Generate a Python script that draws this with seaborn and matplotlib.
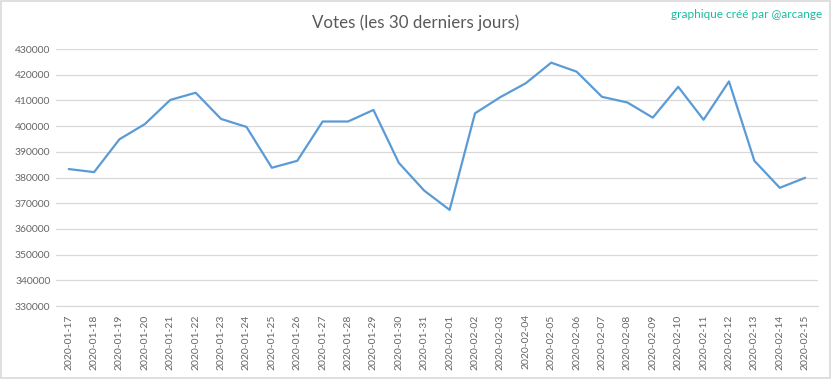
import matplotlib
matplotlib.use("Agg")
import matplotlib.pyplot as plt
import seaborn as sns
import pandas as pd
from matplotlib.patches import Rectangle

dates = ["2020-01-17", "2020-01-18", "2020-01-19", "2020-01-20", "2020-01-21",
         "2020-01-22", "2020-01-23", "2020-01-24", "2020-01-25", "2020-01-26",
         "2020-01-27", "2020-01-28", "2020-01-29", "2020-01-30", "2020-01-31",
         "2020-02-01", "2020-02-02", "2020-02-03", "2020-02-04", "2020-02-05",
         "2020-02-06", "2020-02-07", "2020-02-08", "2020-02-09", "2020-02-10",
         "2020-02-11", "2020-02-12", "2020-02-13", "2020-02-14", "2020-02-15"]
votes = [383300, 382100, 394900, 400800, 410200,
         413000, 402800, 399700, 383800, 386500,
         401800, 401800, 406300, 385700, 374900,
         367400, 405000, 411300, 416700, 424700,
         421200, 411400, 409200, 403300, 415300,
         402500, 417400, 386500, 376000, 379900]
y_ticks = list(range(330000, 430001, 10000))

df = pd.DataFrame({"date": dates, "votes": votes})

sns.set_style("white")
plt.rcParams["font.family"] = ["Lato", "DejaVu Sans"]

fig = plt.figure(figsize=(8.32, 3.79), dpi=100)
ax = fig.add_axes([0.0673, 0.1926, 0.9157, 0.678])

sns.lineplot(data=df, x="date", y="votes", ax=ax, sort=False,
             color="#5b9bd5", linewidth=1.6)

ax.set_xlim(-0.5, len(dates) - 0.5)
ax.set_ylim(330000, 430000)
ax.set_yticks(y_ticks)
ax.set_yticklabels([str(v) for v in y_ticks])
ax.set_xticks(range(len(dates)))
ax.set_xticklabels(dates, rotation=90)
ax.grid(axis="y", color="#d9d9d9", linewidth=0.9)
# bottom gridline sits on the axes edge, draw it explicitly
ax.axhline(y_ticks[0], color="#d9d9d9", linewidth=0.9, clip_on=False, zorder=0.5)
ax.set_axisbelow(True)
for s in ax.spines.values():
    s.set_visible(False)
ax.tick_params(axis="both", length=0, labelsize=7.5, colors="#666666", pad=4)
ax.tick_params(axis="x", pad=6)
ax.set_xlabel("")
ax.set_ylabel("")

fig.text(0.5, 0.94, "Votes (les 30 derniers jours)", ha="center", va="center",
         fontsize=12.2, color="#595959")
fig.text(0.988, 0.963, "graphique créé par @arcange", ha="right", va="center",
         fontsize=8.5, color="#1abc9c")

fig.patches.append(Rectangle((0.001, 0.002), 0.997, 0.995, transform=fig.transFigure,
                             fill=False, edgecolor="#d9d9d9", linewidth=1.2))

fig.savefig("out.png", dpi=100, facecolor="white")
